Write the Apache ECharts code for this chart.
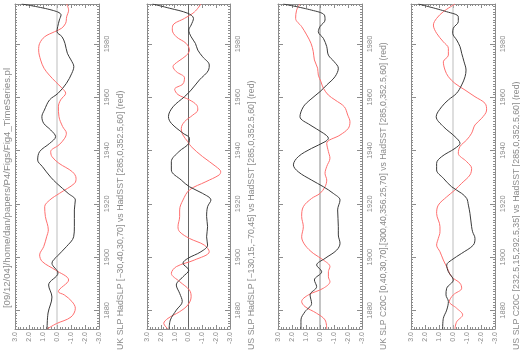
<!DOCTYPE html>
<html>
<head>
<meta charset="utf-8">
<script src="https://cdn.jsdelivr.net/npm/echarts@6/dist/echarts.min.js"></script>
<style>html,body{margin:0;padding:0;background:#fff}#c{width:520px;height:351px}</style>
</head>
<body>
<div id="c"></div>
<script>
// ---------- DATA (years vs. standardised index values) ----------
const yearLabels = [1880, 1900, 1920, 1940, 1960, 1980];
const valueLabels = [3, 2, 1, 0, -1, -2, -3];

const headerText = '[09/12/04]/home/dan/papers/P4/Figs/Fig4_TimeSeries.pl';
const panelTitles = [
  'UK SLP HadSLP [\u221230,40,30,70] vs HadSST [285,0,352.5,60] (red)',
  'US SLP HadSLP [\u2212130,15,\u221270,45] vs HadSST [285,0,352.5,60] (red)',
  'UK SLP C20C [0,40,30,70],[300,40,356.25,70] vs HadSST [285,0,352.5,60] (red)',
  'US SLP C20C [232.5,15,292.5,35] vs HadSST [285,0,352.5,60] (red)'
];

// Panel 1
const p1BlackYears = [1873,1879,1885,1889.5,1894,1897.7,1900.5,1903.9,1907.6,1911.4,1917.7,1921.4,1923.9,1927.7,1930,1934,1936.4,1939.6,1942.7,1945.2,1947.7,1950.2,1952.7,1955.2,1959,1961.5,1965.2,1969,1971.5,1974,1976.5,1980.2,1982.7,1984.6,1986.5,1989,1990.9,1992.7,1995];
const p1BlackVals  = [0.71,0.64,0.36,0.6,-0.07,0.36,-0.05,-0.67,-1.19,-1.24,-1.24,-1.31,-0.8,0.02,0.45,1.05,1.38,1.24,0.52,0.1,0.45,0.95,1.08,0.9,0.53,-0.08,-0.67,-1.06,-1.2,-1.0,-0.74,-0.57,-0.36,0.0,-0.05,-0.17,-0.29,0.36,2.52];
const p1RedYears = [1873,1875,1877.5,1880.8,1883.3,1885.8,1887,1891.4,1895.1,1898.3,1900.8,1903.9,1907.6,1910.2,1915.2,1918.9,1921.4,1923.9,1927.7,1929.6,1932,1935.2,1937.7,1939.6,1942.1,1944.6,1946.5,1949,1952.7,1956.4,1959,1961.5,1963.4,1965.8,1968.3,1970.9,1974,1977.7,1980.2,1982.7,1984.6,1985.9,1987.8,1990.2,1992.7,1995];
const p1RedVals  = [0.71,0.05,-1.0,-1.31,-1.07,-0.52,-0.1,-0.83,0.1,1.05,1.24,0.95,0.74,0.62,0.83,0.88,0.52,-0.17,-1.26,-1.36,-1.1,-0.14,0.36,0.45,-0.14,-0.55,-0.67,-0.4,-0.14,-0.1,-0.26,-0.62,-0.36,0.1,0.55,0.93,1.17,1.31,1.24,0.88,0.17,-0.33,-0.62,-0.69,-0.83,-0.69];

// Panel 2
const p2BlackYears = [1873,1876.4,1880.1,1883.3,1886.4,1889.5,1892.6,1895.1,1897.7,1899.5,1902,1904.5,1907.6,1911.4,1915.2,1918.9,1921.4,1923.9,1926.4,1928.9,1932.7,1935.8,1939.6,1942.7,1944.6,1946.5,1950.2,1952.7,1956.4,1960.2,1962.7,1966.5,1970.2,1972.1,1975.2,1977.7,1980.2,1982.7,1985.2,1987.1,1989.6,1991.5,1993.4,1995];
const p2BlackVals  = [1.4,1.31,0.88,0.45,0.64,0.88,0.4,-0.02,0.4,0.05,-0.9,-1.38,-1.31,-1.38,-1.31,-1.38,-1.62,-1.02,-0.07,0.52,1.24,1.24,0.69,-0.02,-0.07,0.4,1.24,1.45,1.12,0.29,-0.19,-0.79,-1.45,-1.5,-1.02,-0.67,-0.5,-0.19,-0.02,-0.19,-0.36,0.05,1.36,2.6];
const p2RedYears = [1873,1875.1,1877,1879.5,1882,1885.1,1887.6,1890.8,1893.9,1896.4,1898.9,1902,1904.5,1907,1909.5,1911.4,1915.2,1917.7,1921.4,1925.2,1928.3,1930.8,1932,1934,1937.7,1941.5,1943.3,1945.8,1948.3,1950.8,1953.3,1955.2,1957,1959,1961,1963,1965,1967.3,1969.6,1971.5,1973.4,1975.6,1977.7,1980.2,1982.7,1985.2,1987.1,1989.6,1992,1995];
const p2RedVals  = [1.48,1.79,1.48,0.64,0.05,-0.19,-0.07,0.64,1.24,0.88,-0.43,-1.5,-1.14,-0.07,0.64,0.76,0.64,0.64,0.4,-0.07,-1.26,-2.21,-2.33,-1.98,-1.02,-0.19,0.05,0.4,0.52,0.29,-0.31,-0.67,-0.6,-0.07,0.76,1.0,0.4,0.29,0.88,1.12,0.76,0.17,-0.07,0.17,0.88,1.17,1.12,0.29,-0.43,-0.9];

// Panel 3
const p3BlackYears = [1873,1876.4,1879.5,1882.6,1885.8,1888.9,1891.4,1894.5,1897,1899.5,1902.6,1905.2,1908.3,1911.4,1917.7,1921.4,1923.9,1926.4,1928.9,1932,1934.6,1937.7,1940.8,1943.3,1944.6,1946.5,1949.6,1952.7,1956.4,1959,1962.1,1964.6,1967.7,1970.9,1973.3,1975.8,1979,1982.1,1984.6,1986.5,1989,1990.9,1992.7,1995];
const p3BlackVals  = [1.36,1.36,1.07,0.6,0.71,0.24,0.4,-0.12,0.24,-0.36,-1.19,-1.43,-1.31,-1.31,-1.26,-1.43,-0.95,-0.24,0.6,1.55,1.9,1.55,0.6,-0.36,-0.6,-0.24,0.71,1.43,1.19,0.71,0.0,-0.48,-1.07,-1.31,-1.02,-0.6,-0.48,-0.24,0.12,0.0,-0.36,-0.31,0.6,2.62];
const p3RedYears = [1873,1876.4,1878.9,1881.4,1883.3,1885.8,1888.3,1890.8,1892.6,1894.5,1896.4,1898.9,1901.4,1904.5,1907.6,1911.4,1915.2,1918.9,1922,1923.9,1926.4,1928.9,1931.4,1934,1937.1,1939.6,1942.7,1945.8,1948.3,1950.8,1953.3,1956.4,1959,1960.8,1963.4,1965.8,1968.3,1970.9,1974,1977.1,1980.2,1983.4,1986.5,1989.6,1992.7,1995];
const p3RedVals  = [-0.48,-0.36,0.24,1.07,1.31,0.83,-0.24,-0.71,-0.6,-0.6,-0.71,-0.24,0.48,1.07,1.31,1.19,1.31,1.19,0.6,0.0,-0.36,-0.48,-0.36,-0.48,-0.71,-0.6,-0.48,-1.43,-2.02,-2.14,-1.98,-1.74,-1.07,-0.6,-0.24,-0.07,0.12,0.17,0.4,0.48,0.64,0.95,1.31,1.74,1.67,1.43];

// Panel 4
const p4BlackYears = [1873,1877,1880.1,1883.3,1885.8,1888.3,1891.4,1894.5,1897,1898.9,1901.4,1904.5,1907,1909.5,1911.4,1916.4,1919.5,1922,1923.9,1926.4,1929.6,1932.7,1935.2,1937.7,1940.8,1942.7,1945.2,1949,1952.7,1956.4,1959,1961.5,1964.6,1967.7,1970.2,1973.3,1976.5,1979,1981.5,1984,1985.9,1988.4,1990.2,1992.1,1995];
const p4BlackVals  = [0.74,0.69,0.45,0.33,0.5,0.45,-0.02,0.33,0.45,0.1,-0.62,-1.45,-1.57,-1.4,-1.33,-1.21,-1.1,-0.98,-0.62,0.1,0.69,1.17,1.17,0.81,-0.14,-0.5,-0.14,0.69,1.2,0.81,0.33,-0.26,-0.62,-0.86,-0.93,-0.79,-0.62,-0.5,-0.26,0.02,-0.02,-0.38,-0.38,0.45,2.48];
const p4RedYears = [1873,1875.7,1878.3,1880.8,1883.3,1885.8,1888.3,1890.2,1892.6,1895.8,1898.9,1902,1904.5,1907,1909.5,1911.4,1916.4,1919.5,1922.6,1925.2,1927.7,1930.8,1933.3,1935.8,1939,1941.5,1944,1946.5,1949.6,1952.1,1955.2,1957.7,1960.2,1962.7,1965.2,1967.7,1970.2,1973.3,1975.8,1978.4,1980.8,1984,1987.1,1989.6,1992.1,1995];
const p4RedVals  = [-0.14,-0.26,-0.69,-0.26,0.26,-0.02,-0.62,-0.5,0.1,0.4,0.69,0.93,1.17,1.05,0.93,0.93,1.17,1.05,0.45,-0.14,-0.62,-1.21,-1.33,-0.98,-0.38,-0.5,-0.98,-1.33,-1.57,-2.05,-2.4,-2.29,-1.57,-0.86,-0.14,0.33,0.57,0.69,0.33,0.33,0.69,1.17,1.4,1.17,0.69,-0.14];

// ---------- LAYOUT / STYLE ----------
const Y_MIN = 1873, Y_MAX = 1995;
const panels = [
  {left: 15,  width: 84, black: [p1BlackYears, p1BlackVals], red: [p1RedYears, p1RedVals], zero: '#bdbdbd'},
  {left: 147, width: 83, black: [p2BlackYears, p2BlackVals], red: [p2RedYears, p2RedVals], zero: '#666666'},
  {left: 278, width: 84, black: [p3BlackYears, p3BlackVals], red: [p3RedYears, p3RedVals], zero: '#8a8a8a'},
  {left: 411, width: 84, black: [p4BlackYears, p4BlackVals], red: [p4RedYears, p4RedVals], zero: '#bdbdbd'}
];
const TOP = 4, HEIGHT = 325;
const AX = '#8c8c8c';
const TXT = '#8a8a8a';
const FONT = 'Liberation Sans, Arial, sans-serif';

const minorYears = [];
for (let y = Y_MIN; y <= Y_MAX; y++) minorYears.push(y);

const zip = (ys, vs) => ys.map((y, i) => [vs[i], y]);

const grid = [], xAxis = [], yAxis = [], series = [], graphic = [];
panels.forEach((p, i) => {
  grid.push({left: p.left, top: TOP, width: p.width, height: HEIGHT});
  const xBase = {
    gridIndex: i, type: 'value', min: -3, max: 3, interval: 1, inverse: true,
    axisLine: {show: true, onZero: false, lineStyle: {color: AX, width: 1}},
    axisTick: {show: true, inside: true, length: 4, lineStyle: {color: AX}},
    minorTick: {show: true, splitNumber: 5, length: 2, lineStyle: {color: AX}},
    splitLine: {show: false}
  };
  xAxis.push(Object.assign({}, xBase, {
    position: 'bottom',
    axisLabel: {show: true, rotate: 90, fontSize: 7, fontFamily: FONT, color: TXT, margin: 3,
      formatter: v => (valueLabels.indexOf(v) >= 0 ? v.toFixed(1) : '')}
  }));
  xAxis.push(Object.assign({}, xBase, {position: 'top', axisLabel: {show: false}}));

  const yBase = {
    gridIndex: i, type: 'value', min: Y_MIN, max: Y_MAX,
    splitLine: {show: false}
  };
  const mainLine = {show: true, onZero: false, lineStyle: {color: AX, width: 1}};
  const noLine = {show: false, onZero: false};
  yAxis.push(Object.assign({}, yBase, {
    position: 'right', axisLine: mainLine,
    axisTick: {show: true, inside: true, length: 5, customValues: yearLabels, lineStyle: {color: AX}},
    axisLabel: {show: true, customValues: yearLabels, rotate: 90, fontSize: 7.5, fontFamily: FONT, color: TXT, margin: 4,
      formatter: v => String(v)}
  }));
  yAxis.push(Object.assign({}, yBase, {
    position: 'left', axisLine: mainLine,
    axisTick: {show: true, inside: true, length: 5, customValues: yearLabels, lineStyle: {color: AX}},
    axisLabel: {show: false}
  }));
  yAxis.push(Object.assign({}, yBase, {
    position: 'right', axisLine: noLine,
    axisTick: {show: true, inside: true, length: 2, customValues: minorYears, lineStyle: {color: AX}},
    axisLabel: {show: false}
  }));
  yAxis.push(Object.assign({}, yBase, {
    position: 'left', axisLine: noLine,
    axisTick: {show: true, inside: true, length: 2, customValues: minorYears, lineStyle: {color: AX}},
    axisLabel: {show: false}
  }));

  series.push({
    type: 'line', xAxisIndex: 2 * i, yAxisIndex: 4 * i, data: [[0, Y_MIN], [0, Y_MAX]],
    symbol: 'none', silent: true, lineStyle: {color: p.zero, width: 1}, z: 1
  });
  series.push({
    type: 'line', xAxisIndex: 2 * i, yAxisIndex: 4 * i, data: zip(p.red[0], p.red[1]),
    symbol: 'none', smooth: 0.35, lineStyle: {color: '#ff6f6f', width: 1}, z: 2
  });
  series.push({
    type: 'line', xAxisIndex: 2 * i, yAxisIndex: 4 * i, data: zip(p.black[0], p.black[1]),
    symbol: 'none', smooth: 0.35, lineStyle: {color: '#3a3a3a', width: 1}, z: 3
  });

  graphic.push({
    type: 'text', x: p.left + p.width + 22, y: 350, rotation: Math.PI / 2,
    style: {text: panelTitles[i], fill: TXT, font: (i === 2 ? '8.6px ' : '8.8px ') + FONT, textAlign: 'left', textVerticalAlign: 'middle'}
  });
});

graphic.push({
  type: 'text', x: 7, y: 188, rotation: Math.PI / 2,
  style: {text: headerText, fill: TXT, font: '9.6px ' + FONT, textAlign: 'center', textVerticalAlign: 'middle'}
});

const chart = echarts.init(document.getElementById('c'));
chart.setOption({animation: false, grid, xAxis, yAxis, series, graphic});
</script>
</body>
</html>
